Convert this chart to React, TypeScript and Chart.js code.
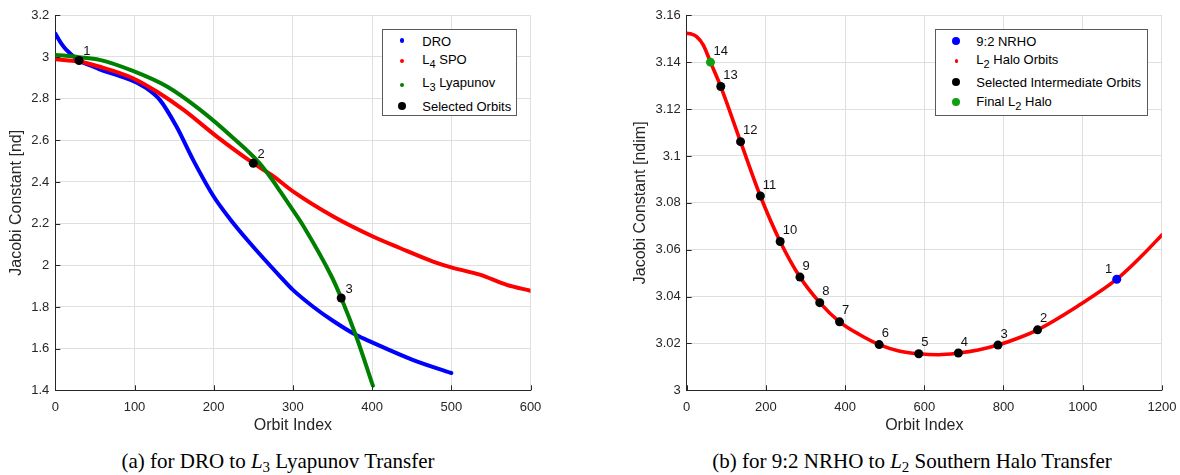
import React, { useEffect, useRef } from 'react';
import { Chart, registerables } from 'chart.js';

Chart.register(...registerables);

const SANS = '"Liberation Sans", Arial, Helvetica, sans-serif';
const SERIF = '"Liberation Serif", "Times New Roman", Times, serif';
const AXIS = '#262626';
const GRID = '#dfdfdf';

// ---------- (a) DRO to L3 Lyapunov ----------
const droIndex = [0, 7, 14, 30, 45, 56, 75, 98, 115, 132, 153, 174, 200, 220, 246, 284, 300, 326, 350, 380, 400, 452, 500];
const droJacobi = [3.112, 3.068, 3.034, 2.983, 2.958, 2.941, 2.916, 2.885, 2.85, 2.794, 2.666, 2.506, 2.33, 2.225, 2.106, 1.946, 1.882, 1.8, 1.735, 1.665, 1.63, 1.545, 1.483];

const spoIndex = [0, 30, 56, 98, 128, 162, 204, 250, 275, 301, 351, 401, 435, 477, 500, 536, 570, 600];
const spoJacobi = [2.989, 2.978, 2.953, 2.898, 2.834, 2.746, 2.618, 2.49, 2.428, 2.352, 2.234, 2.138, 2.083, 2.018, 1.99, 1.955, 1.906, 1.878];

const lyapIndex = [0, 30, 56, 98, 141, 183, 225, 258, 271, 284, 300, 313, 349, 361, 380, 401];
const lyapJacobi = [3.01, 2.999, 2.986, 2.933, 2.858, 2.746, 2.61, 2.49, 2.426, 2.355, 2.265, 2.19, 1.945, 1.843, 1.658, 1.422];

const selIndexA = [30, 250, 361];
const selJacobiA = [2.983, 2.49, 1.843];
const selLabelsA = ['1', '2', '3'];

// ---------- (b) 9:2 NRHO to L2 Southern Halo ----------
const haloIndex = [0, 12, 25, 42, 60, 86, 136, 186, 236, 286, 336, 386, 436, 486, 536, 586, 636, 686, 736, 786, 836, 886, 986, 1086, 1150, 1200];
const haloJacobi = [3.1523, 3.152, 3.1509, 3.1473, 3.14, 3.1296, 3.1061, 3.0829, 3.0635, 3.0483, 3.0374, 3.0292, 3.0238, 3.0195, 3.0168, 3.0156, 3.0152, 3.0159, 3.0172, 3.0193, 3.0222, 3.0258, 3.0358, 3.0474, 3.0575, 3.0663];

const selIndexB = [86, 136, 186, 236, 286, 336, 386, 486, 586, 686, 786, 886];
const selJacobiB = [3.1296, 3.1061, 3.0829, 3.0635, 3.0483, 3.0374, 3.0292, 3.0195, 3.0156, 3.0159, 3.0193, 3.0258];
const selLabelsB = ['13', '12', '11', '10', '9', '8', '7', '6', '5', '4', '3', '2'];

const nrhoIndex = [1086];
const nrhoJacobi = [3.0474];
const nrhoLabels = ['1'];

const finalIndex = [60];
const finalJacobi = [3.14];
const finalLabels = ['14'];

// ---------- text ----------
const legendTextA = [['DRO', '', ''], ['L', '4', ' SPO'], ['L', '3', ' Lyapunov'], ['Selected Orbits', '', '']];
const legendTextB = [['9:2 NRHO', '', ''], ['L', '2', ' Halo Orbits'], ['Selected Intermediate Orbits', '', ''], ['Final L', '2', ' Halo']];

const toXY = (xs: number[], ys: number[]) => xs.map((x, i) => ({ x, y: ys[i] }));
const fmt = (v: number) => String(parseFloat(Number(v).toFixed(4)));

const inwardTicks = {
  id: 'inwardTicks',
  afterDraw(chart: any) {
    const { ctx, chartArea, scales } = chart;
    ctx.save();
    ctx.strokeStyle = AXIS;
    ctx.lineWidth = 1;
    ctx.beginPath();
    scales.x.ticks.forEach((t: any) => {
      const p = Math.round(scales.x.getPixelForValue(t.value)) + 0.5;
      ctx.moveTo(p, chartArea.bottom);
      ctx.lineTo(p, chartArea.bottom - 5);
    });
    scales.y.ticks.forEach((t: any) => {
      const p = Math.round(scales.y.getPixelForValue(t.value)) + 0.5;
      ctx.moveTo(chartArea.left, p);
      ctx.lineTo(chartArea.left + 5, p);
    });
    ctx.stroke();
    ctx.restore();
  },
};

const pointLabels = {
  id: 'pointLabels',
  afterDatasetsDraw(chart: any) {
    const { ctx } = chart;
    ctx.save();
    ctx.font = `13px ${SANS}`;
    ctx.fillStyle = '#111';
    ctx.textBaseline = 'middle';
    chart.data.datasets.forEach((ds: any, i: number) => {
      if (!ds.pointLabels) return;
      const meta = chart.getDatasetMeta(i);
      ctx.textAlign = ds.labelAlign || 'left';
      meta.data.forEach((el: any, j: number) => {
        const lab = ds.pointLabels[j];
        if (!lab) return;
        ctx.fillText(lab, el.x + ds.labelDx, el.y + ds.labelDy);
      });
    });
    ctx.restore();
  },
};

function makeOptions(c: any) {
  return {
    animation: false,
    responsive: false,
    devicePixelRatio: 1,
    layout: { padding: { left: c.padLeft, top: 15.3, right: c.padRight, bottom: 0 } },
    plugins: { legend: { display: false }, tooltip: { enabled: false } },
    elements: { point: { radius: 0 } },
    scales: {
      x: {
        type: 'linear',
        min: c.xMin,
        max: c.xMax,
        ticks: { stepSize: c.xStep, padding: 0, color: AXIS, font: { size: 13, family: SANS }, callback: (v: number) => fmt(v), maxRotation: 0 },
        grid: { color: GRID, drawTicks: true, tickLength: 9, tickColor: 'rgba(0,0,0,0)' },
        border: { color: AXIS, width: 1 },
        title: { display: true, text: c.xTitle, color: AXIS, font: { size: 16, family: SANS }, padding: { top: 0, bottom: 4.4 } },
        afterFit: (s: any) => { s.height = 49.7; },
      },
      y: {
        type: 'linear',
        min: c.yMin,
        max: c.yMax,
        ticks: { stepSize: c.yStep, padding: 0, color: AXIS, font: { size: 13, family: SANS }, callback: (v: number) => fmt(v) },
        grid: { color: GRID, drawTicks: true, tickLength: 6, tickColor: 'rgba(0,0,0,0)' },
        border: { color: AXIS, width: 1 },
        title: { display: true, text: c.yTitle, color: AXIS, font: { size: 16, family: SANS }, padding: { top: c.yTitlePad, bottom: 0 } },
        afterFit: (s: any) => { s.width = c.yWidth; },
      },
    },
  };
}

const curve = (data: any, color: string, order: number, width: number) => ({
  data,
  borderColor: color,
  backgroundColor: color,
  borderWidth: width,
  pointRadius: 0,
  showLine: true,
  fill: false,
  cubicInterpolationMode: 'monotone',
  borderCapStyle: 'round',
  borderJoinStyle: 'round',
  order,
});

const dots = (data: any, color: string, labels: string[], dx: number, dy: number, align: string, order: number) => ({
  data,
  showLine: false,
  pointRadius: 4.5,
  pointHoverRadius: 4.5,
  pointBackgroundColor: color,
  pointBorderWidth: 0,
  borderColor: color,
  backgroundColor: color,
  pointLabels: labels,
  labelDx: dx,
  labelDy: dy,
  labelAlign: align,
  order,
});

function configA() {
  return {
    type: 'line',
    data: {
      datasets: [
        dots(toXY(selIndexA, selJacobiA), '#000000', selLabelsA, 4.3, -9, 'left', 0),
        curve(toXY(lyapIndex, lyapJacobi), '#008000', 1, 4),
        curve(toXY(spoIndex, spoJacobi), '#ff0000', 2, 4),
        curve(toXY(droIndex, droJacobi), '#0000ff', 3, 4),
      ],
    },
    options: makeOptions({
      padLeft: 0, padRight: 29.5, yWidth: 55.3, yTitlePad: 7,
      xMin: 0, xMax: 600, xStep: 100, yMin: 1.4, yMax: 3.2, yStep: 0.2,
      xTitle: 'Orbit Index', yTitle: 'Jacobi Constant [nd]',
    }),
    plugins: [inwardTicks, pointLabels],
  };
}

function configB() {
  return {
    type: 'line',
    data: {
      datasets: [
        dots(toXY(nrhoIndex, nrhoJacobi), '#0000ff', nrhoLabels, -4.5, -10, 'right', 0),
        dots(toXY(finalIndex, finalJacobi), '#10a010', finalLabels, 3, -11, 'left', 0),
        dots(toXY(selIndexB, selJacobiB), '#000000', selLabelsB, 2.5, -11, 'left', 1),
        curve(toXY(haloIndex, haloJacobi), '#ff0000', 3, 3.6),
      ],
    },
    options: makeOptions({
      padLeft: 40, padRight: 18.1, yWidth: 66.7, yTitlePad: 11.1,
      xMin: 0, xMax: 1200, xStep: 200, yMin: 3, yMax: 3.16, yStep: 0.02,
      xTitle: 'Orbit Index', yTitle: 'Jacobi Constant [ndim]',
    }),
    plugins: [inwardTicks, pointLabels],
  };
}

function ChartCanvas({ make, left, width, height }: any) {
  const ref = useRef<HTMLCanvasElement>(null);
  useEffect(() => {
    const chart = new Chart(ref.current as HTMLCanvasElement, make() as any);
    return () => chart.destroy();
  }, []);
  return (
    <canvas
      ref={ref}
      width={width}
      height={height}
      style={{ position: 'absolute', left, top: 0, width, height }}
    />
  );
}

function Legend({ box, markerX, textX, rows, text }: any) {
  return (
    <>
      <div
        style={{
          position: 'absolute', left: box.l, top: box.t, width: box.w, height: box.h,
          border: '1px solid #5a5a5a', background: '#fff', boxSizing: 'border-box',
        }}
      />
      {rows.map((r: any, i: number) => (
        <React.Fragment key={i}>
          <div
            style={{
              position: 'absolute', left: markerX - r.r, top: r.my - r.r, width: 2 * r.r, height: 2 * r.r,
              borderRadius: '50%', background: r.color,
            }}
          />
          <div
            style={{
              position: 'absolute', left: textX, top: r.ty - 7.35, fontFamily: SANS, fontSize: 13,
              lineHeight: '15px', whiteSpace: 'nowrap', color: '#000',
            }}
          >
            {text[i][0]}
            {text[i][1] ? <span style={{ fontSize: 11, verticalAlign: '-4px' }}>{text[i][1]}</span> : null}
            {text[i][2]}
          </div>
        </React.Fragment>
      ))}
    </>
  );
}

const legendRowsA = [
  { color: '#0000ff', r: 2.2, my: 40.5, ty: 41 },
  { color: '#ff0000', r: 2.2, my: 60.7, ty: 59 },
  { color: '#008000', r: 2.2, my: 84.7, ty: 82.5 },
  { color: '#000000', r: 4, my: 105.7, ty: 106 },
];
const legendRowsB = [
  { color: '#0000ff', r: 4, my: 40.5, ty: 41 },
  { color: '#ff0000', r: 1.8, my: 61, ty: 59 },
  { color: '#000000', r: 4, my: 82, ty: 82.5 },
  { color: '#10a010', r: 4, my: 102.3, ty: 101.7 },
];

const captionStyle: any = {
  position: 'absolute', top: 451.2, width: 500, textAlign: 'center', fontFamily: SERIF,
  fontSize: 21, lineHeight: '20px', color: '#000', whiteSpace: 'nowrap',
};
const subStyle: any = { fontSize: 15, verticalAlign: '-3.5px' };

export default function App() {
  return (
    <div style={{ position: 'absolute', left: 0, top: 0, width: 1180, height: 475, background: '#fff', overflow: 'hidden' }}>
      <ChartCanvas make={configA} left={0} width={560} height={440} />
      <ChartCanvas make={configB} left={580} width={600} height={440} />
      <Legend box={{ l: 381.7, t: 29.3, w: 135, h: 87 }} markerX={402.3} textX={422.3} rows={legendRowsA} text={legendTextA} />
      <Legend box={{ l: 935.3, t: 29.3, w: 212.4, h: 87 }} markerX={956.3} textX={976.3} rows={legendRowsB} text={legendTextB} />
      <div style={{ ...captionStyle, left: 278 - 250 }}>
        (a) for DRO to <i>L</i><span style={subStyle}>3</span> Lyapunov Transfer
      </div>
      <div style={{ ...captionStyle, left: 912 - 250 }}>
        (b) for 9:2 NRHO to <i>L</i><span style={subStyle}>2</span> Southern Halo Transfer
      </div>
    </div>
  );
}
